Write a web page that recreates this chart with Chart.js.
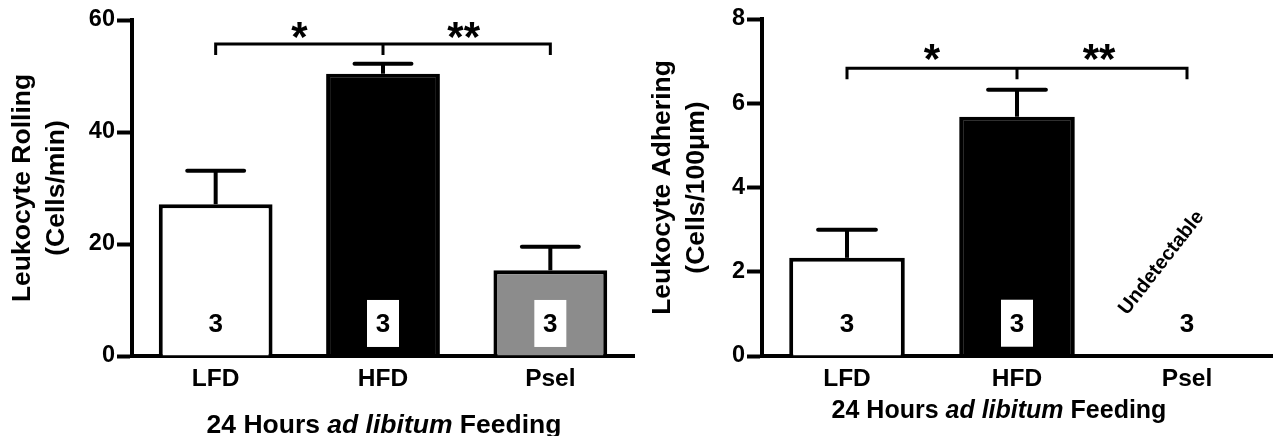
<!DOCTYPE html>
<html>
<head>
<meta charset="utf-8">
<script src="https://cdn.jsdelivr.net/npm/chart.js@4.4.1/dist/chart.umd.min.js"></script>
<style>
  html, body { margin: 0; padding: 0; background: #fff; }
  body {
    width: 1274px;
    height: 436px;
    position: relative;
    overflow: hidden;
    font-family: "Liberation Sans", Arial, sans-serif;
  }
  .panel { position: absolute; top: 0; height: 436px; }
  #left-panel { left: 0; width: 640px; }
  #right-panel { left: 640px; width: 634px; }
  .x-title {
    position: absolute;
    font-weight: bold;
    color: #000;
    white-space: nowrap;
    transform: translateX(-50%);
    line-height: 1;
  }
  #rolling-x-title { left: 384px; top: 411px; font-size: 26.5px; }
  #adhering-x-title { left: 359px; top: 397px; font-size: 25px; }
</style>
</head>
<body>
<div class="panel" id="left-panel">
  <canvas id="rolling-chart"></canvas>
  <div class="x-title" id="rolling-x-title">24 Hours <i>ad libitum</i> Feeding</div>
</div>
<div class="panel" id="right-panel">
  <canvas id="adhering-chart"></canvas>
  <div class="x-title" id="adhering-x-title">24 Hours <i>ad libitum</i> Feeding</div>
</div>
<script>
const groups = ["LFD", "HFD", "Psel"];
const sampleSizes = [3, 3, 3];
const barColors = ["#ffffff", "#000000", "#8c8c8c"];

// leukocyte rolling (cells/min)
const rollingMeans = [27.1, 50.4, 15.3];
const rollingSem = [6.0, 1.8, 4.2];

// leukocyte adhering (cells/100 um), Psel undetectable
const adheringMeans = [2.33, 5.68, null];
const adheringSem = [0.67, 0.64, null];

const FONT = "'Liberation Sans', Arial, sans-serif";

function centerText(ctx, text, x, yMid) {
  const m = ctx.measureText(text);
  ctx.fillText(text, x, yMid + (m.actualBoundingBoxAscent - m.actualBoundingBoxDescent) / 2);
}

const extrasPlugin = {
  id: "extras",
  afterDatasetsDraw(chart, args, opts) {
    const { ctx } = chart;
    const xScale = chart.scales.x;
    const yScale = chart.scales.y;
    const bars = chart.getDatasetMeta(0).data;
    ctx.save();
    ctx.strokeStyle = "#000";
    ctx.fillStyle = "#000";

    // error bars (upper SEM only)
    opts.means.forEach((mean, i) => {
      if (mean === null) return;
      const bar = bars[i];
      const top = yScale.getPixelForValue(mean + opts.sem[i]);
      const half = bar.width / 4;
      ctx.lineWidth = 4;
      ctx.lineCap = "butt";
      ctx.beginPath();
      ctx.moveTo(bar.x, bar.y);
      ctx.lineTo(bar.x, top);
      ctx.stroke();
      ctx.lineCap = "round";
      ctx.beginPath();
      ctx.moveTo(bar.x - half, top);
      ctx.lineTo(bar.x + half, top);
      ctx.stroke();
    });

    // n per group
    const nY = yScale.getPixelForValue(opts.nValue);
    ctx.font = `bold 26px ${FONT}`;
    ctx.textAlign = "center";
    ctx.textBaseline = "alphabetic";
    sampleSizes.forEach((n, i) => {
      const cx = xScale.getPixelForValue(i);
      if (opts.boxed[i]) {
        ctx.fillStyle = "#fff";
        ctx.fillRect(cx - 16, nY - 23, 32, 47);
      }
      ctx.fillStyle = "#000";
      centerText(ctx, String(n), cx, nY);
    });

    // significance bracket
    const b = opts.bracket;
    const by = yScale.getPixelForValue(b.y);
    const bDrop = yScale.getPixelForValue(b.y - b.drop);
    const xs = [0, 1, 2].map((i) => xScale.getPixelForValue(i));
    ctx.lineWidth = 3;
    ctx.lineCap = "butt";
    ctx.beginPath();
    ctx.moveTo(xs[0], bDrop);
    ctx.lineTo(xs[0], by);
    ctx.lineTo(xs[2], by);
    ctx.lineTo(xs[2], bDrop);
    ctx.moveTo(xs[1], by);
    ctx.lineTo(xs[1], bDrop);
    ctx.stroke();

    const starY = yScale.getPixelForValue(b.starY);
    ctx.font = `bold 42px ${FONT}`;
    centerText(ctx, b.stars[0], (xs[0] + xs[1]) / 2, starY);
    centerText(ctx, b.stars[1], (xs[1] + xs[2]) / 2 - 3, starY);

    if (opts.note) {
      const nx = xScale.getPixelForValue(opts.note.index) - 27;
      const ny = yScale.getPixelForValue(opts.note.y);
      ctx.translate(nx, ny);
      ctx.rotate(-52 * Math.PI / 180);
      ctx.font = `bold 20px ${FONT}`;
      ctx.textAlign = "center";
      centerText(ctx, opts.note.text, 0, 0);
    }
    ctx.restore();
  },
};

function buildChart(canvasId, cfg) {
  return new Chart(document.getElementById(canvasId), {
    type: "bar",
    data: {
      labels: groups,
      datasets: [
        {
          data: cfg.means,
          backgroundColor: barColors,
          borderColor: "#000",
          borderWidth: 4,
          borderSkipped: "start",
          barPercentage: 0.68,
          categoryPercentage: 1,
        },
      ],
    },
    options: {
      responsive: true,
      maintainAspectRatio: false,
      animation: false,
      layout: { padding: { top: cfg.top, right: cfg.right, left: 0, bottom: 0 } },
      plugins: {
        legend: { display: false },
        tooltip: { enabled: false },
        extras: {
          means: cfg.means,
          sem: cfg.sem,
          nValue: cfg.nValue,
          boxed: cfg.boxed,
          bracket: cfg.bracket,
          note: cfg.note,
        },
      },
      scales: {
        x: {
          afterFit: (scale) => { scale.height = 80; },
          grid: { display: false },
          border: { display: true, color: "#000", width: 4 },
          ticks: { color: "#000", padding: 1, font: { family: FONT, size: 24.5, weight: "bold" } },
        },
        y: {
          min: 0,
          max: cfg.max,
          afterFit: (scale) => { scale.width = cfg.axisWidth; },
          grid: {
            drawOnChartArea: false,
            drawTicks: true,
            tickLength: 15,
            tickWidth: 4,
            tickColor: "#000",
          },
          border: { display: true, color: "#000", width: 4 },
          ticks: {
            stepSize: cfg.step,
            padding: 2,
            color: "#000",
            font: { family: FONT, size: 23.5, weight: "bold" },
          },
          title: {
            display: true,
            text: cfg.yTitle,
            color: "#000",
            padding: { top: 5, bottom: 0 },
            font: { family: FONT, size: 26.5, weight: "bold", lineHeight: 1.3 },
          },
        },
      },
    },
    plugins: [extrasPlugin],
  });
}

buildChart("rolling-chart", {
  means: rollingMeans,
  sem: rollingSem,
  max: 60,
  step: 20,
  top: 20,
  right: 6,
  axisWidth: 132,
  nValue: 5.9,
  boxed: [false, true, true],
  bracket: { y: 55.7, drop: 1.95, starY: 58.2, stars: ["*", "**"] },
  note: null,
  yTitle: ["Leukocyte Rolling", "(Cells/min)"],
});

buildChart("adhering-chart", {
  means: adheringMeans,
  sem: adheringSem,
  max: 8,
  step: 2,
  top: 19,
  right: 2,
  axisWidth: 122,
  nValue: 0.79,
  boxed: [false, true, false],
  bracket: { y: 6.83, drop: 0.26, starY: 7.21, stars: ["*", "**"] },
  note: { index: 2, y: 2.24, text: "Undetectable" },
  yTitle: ["Leukocyte Adhering", "(Cells/100μm)"],
});
</script>
</body>
</html>
